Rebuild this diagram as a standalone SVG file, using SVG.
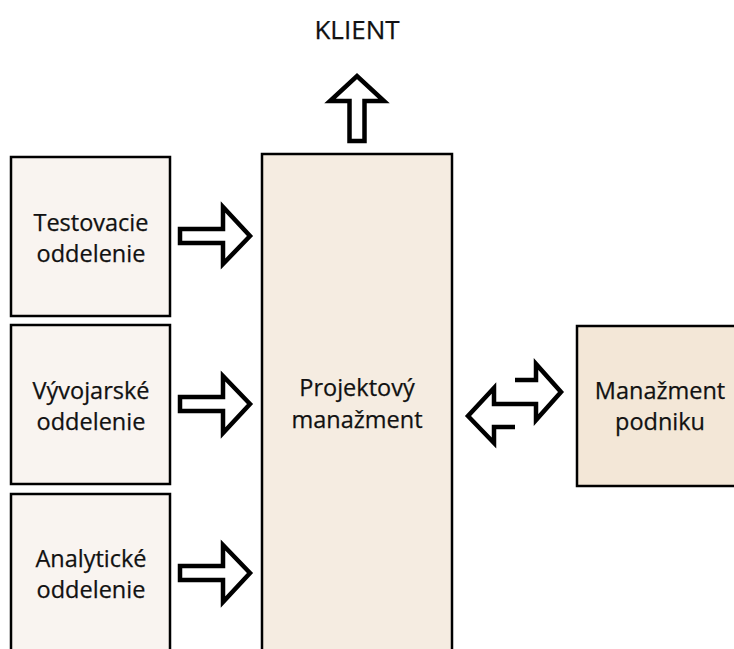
<svg xmlns="http://www.w3.org/2000/svg" width="734" height="649" viewBox="0 0 734 649">
  <style>
    .box { stroke: #000; stroke-width: 2.5; }
    .dept { fill: #f9f4f0; }
    .pm { fill: #f5ece1; }
    .mgmt { fill: #f3e7d7; }
    .lbl { font-family: "Open Sans", "Noto Sans", "DejaVu Sans", sans-serif; font-size: 23.5px; fill: #111; text-anchor: middle; stroke: #111; stroke-width: 0.25; }
    .title { font-size: 26px; }
    .arrow { fill: #fff; stroke: #000; stroke-width: 4.5; stroke-linejoin: miter; stroke-miterlimit: 10; }
    .arrow-open { fill: none; stroke: #000; stroke-width: 4.5; stroke-linejoin: miter; stroke-miterlimit: 10; }
  </style>

  <rect width="734" height="649" fill="#fff"/>

  <g id="klient">
    <text class="lbl title" x="357" y="39">KLIENT</text>
  </g>

  <g id="testovacie">
    <rect class="box dept" x="11" y="157" width="159" height="159"/>
    <text class="lbl" x="91" y="231">Testovacie</text>
    <text class="lbl" x="91" y="262">oddelenie</text>
  </g>

  <g id="vyvojarske">
    <rect class="box dept" x="11" y="325" width="159" height="159"/>
    <text class="lbl" x="91" y="399">Vývojarské</text>
    <text class="lbl" x="91" y="430">oddelenie</text>
  </g>

  <g id="analyticke">
    <rect class="box dept" x="11" y="494" width="159" height="170"/>
    <text class="lbl" x="91" y="567">Analytické</text>
    <text class="lbl" x="91" y="598">oddelenie</text>
  </g>

  <g id="projektovy">
    <rect class="box pm" x="262" y="154" width="190" height="510"/>
    <text class="lbl" x="357" y="396">Projektový</text>
    <text class="lbl" x="357" y="428">manažment</text>
  </g>

  <g id="podnik">
    <rect class="box mgmt" x="577" y="326" width="170" height="160"/>
    <text class="lbl" x="660" y="399">Manažment</text>
    <text class="lbl" x="660" y="430">podniku</text>
  </g>

  <g id="connectors">
    <!-- up to KLIENT -->
    <polygon class="arrow" points="349.5,141 349.5,101 330,101 357,76 384,101 364.5,101 364.5,141"/>
    <!-- departments to project management -->
    <polygon class="arrow" points="180,229 223,229 223,207 250,236 223,264 223,243 180,243"/>
    <polygon class="arrow" points="180,397 223,397 223,376 250,404 223,433 223,411 180,411"/>
    <polygon class="arrow" points="180,566 223,566 223,545 250,573 223,602 223,580 180,580"/>
    <!-- two-way link with company management -->
    <polyline class="arrow-open" points="515,380 536,380 536,364 561,392 536,420 536,404 494,404 494,388 468,416 494,443 494,427 515,427"/>
  </g>
</svg>
